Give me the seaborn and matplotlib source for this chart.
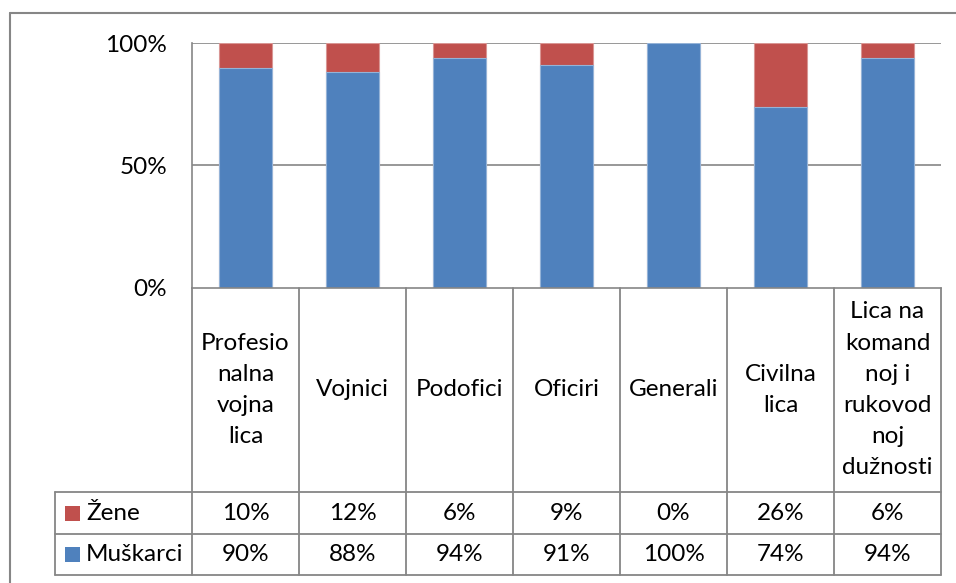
import matplotlib
matplotlib.use("Agg")
import matplotlib.pyplot as plt
import seaborn as sns
import pandas as pd
from matplotlib.transforms import Affine2D, blended_transform_factory
from matplotlib.patches import Rectangle
from matplotlib.lines import Line2D

# ---- data ----
categories = ["Profesionalna vojna lica", "Vojnici", "Podofici", "Oficiri",
              "Generali", "Civilna lica", "Lica na komandnoj i rukovodnoj dužnosti"]
header_labels = ["Profesio\nnalna\nvojna\nlica", "Vojnici", "Podofici", "Oficiri",
                 "Generali", "Civilna\nlica", "Lica na\nkomand\nnoj i\nrukovod\nnoj\ndužnosti"]
zene = [10, 12, 6, 9, 0, 26, 6]
muskarci = [90, 88, 94, 91, 100, 74, 94]
series_names = ["Žene", "Muškarci"]
y_ticks = [0, 50, 100]
y_tick_labels = ["0%", "50%", "100%"]

BLUE = "#4F81BD"
RED = "#C0504D"
GRID = "#868686"

sns.set_theme(style="white")
plt.rcParams["font.family"] = ["Lato", "DejaVu Sans"]
FS = 17.5

W, H = 956, 583
fig = plt.figure(figsize=(W / 100, H / 100), dpi=100)

# plot area in pixel coordinates (layout)
L, R, T, B = 192, 941, 43, 288
ax = fig.add_axes([L / W, 1 - B / H, (R - L) / W, (B - T) / H])

df = pd.DataFrame({"cat": categories,
                   "total": [z + m for z, m in zip(zene, muskarci)],
                   "men": muskarci})

sns.barplot(data=df, x="cat", y="total", color=RED, saturation=1, width=0.5,
            edgecolor="#D99694", linewidth=0.8, ax=ax, order=categories)
sns.barplot(data=df, x="cat", y="men", color=BLUE, saturation=1, width=0.5,
            edgecolor="#95B3D7", linewidth=0.8, ax=ax, order=categories)

ax.set_xlim(-0.5, len(categories) - 0.5)
ax.set_ylim(0, 100)
ax.set_xlabel("")
ax.set_ylabel("")
ax.set_xticks([])
ax.set_yticks(y_ticks)
ax.set_yticklabels(y_tick_labels, fontsize=FS, color="black")
ax.tick_params(axis="y", length=0, pad=18)
for v in y_ticks[1:]:
    ax.axhline(v, color=GRID, lw=1.2, zorder=0)
for s in ["top", "right"]:
    ax.spines[s].set_visible(False)
for s in ["left", "bottom"]:
    ax.spines[s].set_color(GRID)
    ax.spines[s].set_linewidth(1.2)

# pixel-y transforms
pix = Affine2D().scale(1 / W, -1 / H).translate(0, 1) + fig.transFigure
tr = blended_transform_factory(ax.transData, pix)

n = len(categories)
y_head_top, y_head_bot = B, 492
y_row1_bot, y_row2_bot = 534, 575
table_left = 55
lc = GRID
lw = 1.3

# vertical lines across header and rows
for i in range(n + 1):
    x = i - 0.5
    fig.add_artist(Line2D([x, x], [y_head_top, y_row2_bot], transform=tr, color=lc, lw=lw))
# horizontal lines
for yy in [y_head_bot, y_row1_bot, y_row2_bot]:
    fig.add_artist(Line2D([table_left, R], [yy, yy], transform=pix, color=lc, lw=lw))
fig.add_artist(Line2D([table_left, table_left], [y_head_bot, y_row2_bot], transform=pix, color=lc, lw=lw))

# header labels
for i, lab in enumerate(header_labels):
    fig.text(i, (y_head_top + y_head_bot) / 2, lab, transform=tr, ha="center", va="center",
             fontsize=FS, linespacing=1.6, color="black")

# rows
rows = [(series_names[0], zene, RED, (y_head_bot + y_row1_bot) / 2),
        (series_names[1], muskarci, BLUE, (y_row1_bot + y_row2_bot) / 2)]
for name, vals, col, yc in rows:
    fig.add_artist(Rectangle((65, yc - 7.5), 15, 15, transform=pix, facecolor=col, edgecolor="none"))
    fig.text(86, yc, name, transform=pix, ha="left", va="center", fontsize=FS, color="black")
    for i, v in enumerate(vals):
        fig.text(i, yc, f"{v}%", transform=tr, ha="center", va="center", fontsize=FS, color="black")

# outer chart border (partially visible)
fig.add_artist(Line2D([10, 10], [13, H + 5], transform=pix, color=GRID, lw=1.5))
fig.add_artist(Line2D([10, W + 5], [13, 13], transform=pix, color=GRID, lw=1.5))

fig.savefig("out.png", dpi=100)
